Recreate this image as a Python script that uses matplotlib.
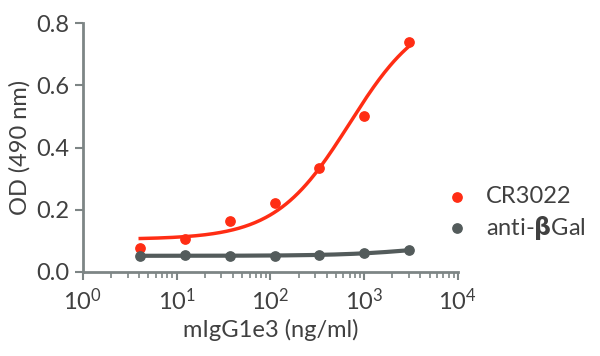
import numpy as np
import matplotlib
matplotlib.use("Agg")
import matplotlib.pyplot as plt
from matplotlib.ticker import LogLocator, LogFormatterMathtext, NullFormatter

plt.rcParams['font.family'] = ['Lato', 'DejaVu Sans']
plt.rcParams['mathtext.fontset'] = 'custom'
plt.rcParams['mathtext.rm'] = 'Lato'

# concentrations (ng/ml), 3-fold dilutions
conc = [4.1, 12.3, 37, 111, 333, 1000, 3000]
cr3022 = [0.078, 0.105, 0.165, 0.222, 0.335, 0.50, 0.74]
anti_bgal = [0.052, 0.053, 0.050, 0.052, 0.055, 0.062, 0.070]

# 4PL fit parameters: bottom, top, EC50, hill
fit_cr3022 = (0.105, 0.85, 700, 1.1)
fit_bgal = (0.052, 0.10, 5000, 1.0)

red = '#ff2d14'
grey = '#535b5b'
axis_col = '#7d8585'
text_col = '#404040'


def four_pl(x, p):
    bottom, top, ec50, hill = p
    return bottom + (top - bottom) / (1 + (ec50 / x) ** hill)


fig = plt.figure(figsize=(6, 3.56), dpi=100)
ax = fig.add_axes([0.138, 0.236, 0.625, 0.699])

xs = np.logspace(np.log10(conc[0]), np.log10(conc[-1]), 200)
ax.plot(xs, four_pl(xs, fit_cr3022), color=red, lw=2.5, zorder=2)
ax.plot(xs, four_pl(xs, fit_bgal), color=grey, lw=3, zorder=2)
ax.scatter(conc, cr3022, color=red, s=45, zorder=3, label='CR3022')
ax.scatter(conc, anti_bgal, color=grey, s=45, zorder=3, label=r'anti-$\mathbf{\beta}$Gal')

ax.set_xscale('log')
ax.set_xlim(1, 1e4)
ax.set_ylim(0, 0.8)
ax.set_yticks([0, 0.2, 0.4, 0.6, 0.8])
ax.set_yticklabels(['0.0', '0.2', '0.4', '0.6', '0.8'])
ax.xaxis.set_major_locator(LogLocator(base=10, numticks=10))
ax.xaxis.set_major_formatter(LogFormatterMathtext())
ax.xaxis.set_minor_locator(LogLocator(base=10, subs=np.arange(2, 10), numticks=10))
ax.xaxis.set_minor_formatter(NullFormatter())

for s in ['top', 'right']:
    ax.spines[s].set_visible(False)
for s in ['left', 'bottom']:
    ax.spines[s].set_color(axis_col)
    ax.spines[s].set_linewidth(2)

ax.tick_params(axis='both', which='major', colors=axis_col, width=1.5, length=6,
               labelsize=17, labelcolor=text_col)
ax.tick_params(axis='x', which='minor', colors=axis_col, width=1.2, length=4)
ax.tick_params(axis='x', which='major', pad=5)

ax.set_xlabel('mIgG1e3 (ng/ml)', fontsize=17, color=text_col)
ax.set_ylabel('OD (490 nm)', fontsize=17, color=text_col)

ax.legend(loc='center left', bbox_to_anchor=(445 / 600, 0.399),
          bbox_transform=fig.transFigure, frameon=False, borderpad=0,
          borderaxespad=0, handlelength=1.0, handletextpad=0.73,
          labelspacing=0.27, fontsize=17, labelcolor=text_col, scatterpoints=1)

fig.savefig('out.png', dpi=100)
